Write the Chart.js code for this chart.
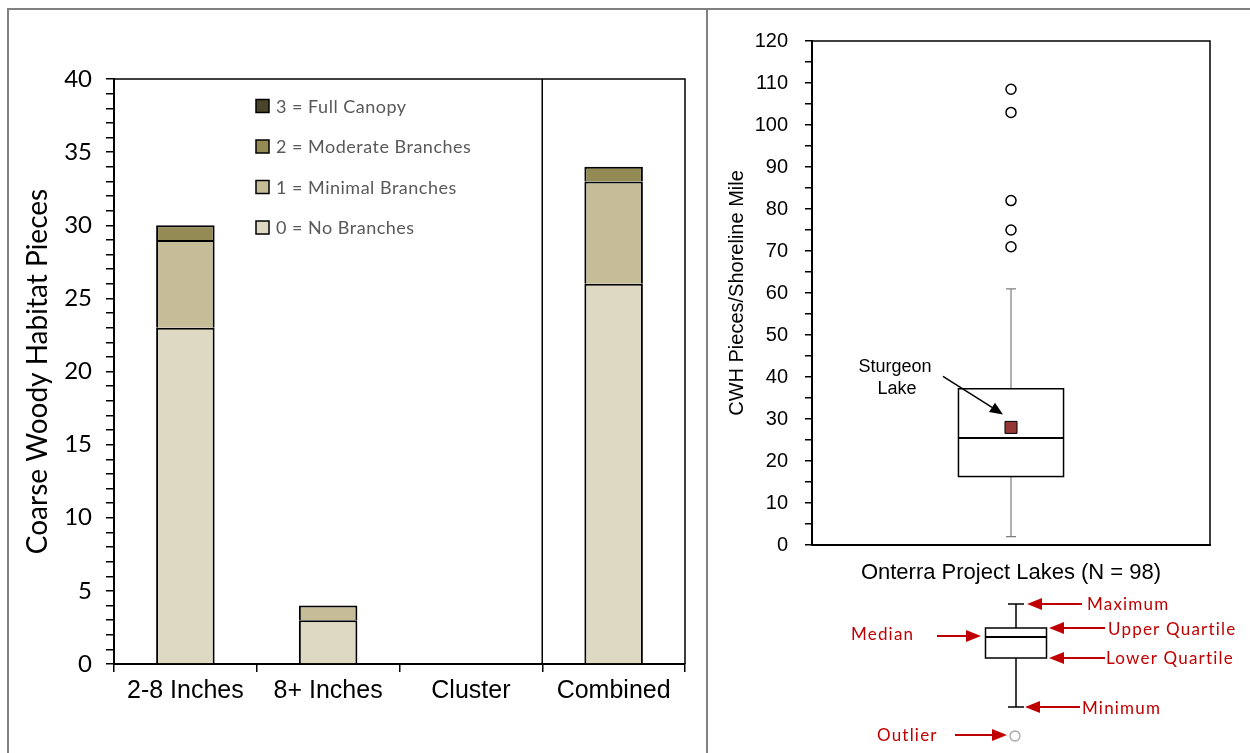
<!DOCTYPE html>
<html><head><meta charset="utf-8">
<script src="https://cdn.jsdelivr.net/npm/chart.js@4.4.1/dist/chart.umd.min.js"></script>
<style>
html,body{margin:0;padding:0;background:#fff;width:1250px;height:753px;overflow:hidden;}
#left{position:absolute;left:0;top:0;width:708px;height:753px;}
#right{position:absolute;left:708px;top:0;width:542px;height:753px;}
.bt{position:absolute;left:7px;top:8px;width:1243px;height:2px;background:#808080;}
.bl{position:absolute;left:7px;top:8px;width:2px;height:745px;background:#808080;}
.bm{position:absolute;left:706px;top:8px;width:2px;height:745px;background:#808080;}
</style></head>
<body>
<div class="bt"></div><div class="bl"></div><div class="bm"></div>
<div id="left"><canvas id="c1" width="708" height="753"></canvas></div>
<div id="right"><canvas id="c2" width="542" height="753"></canvas></div>
<script>
// ---------- Left chart data ----------
const categories = ['2-8 Inches', '8+ Inches', 'Cluster', 'Combined'];
const noBranches = [23, 3, 0, 26];
const minimalBranches = [6, 1, 0, 7];
const moderateBranches = [1, 0, 0, 1];
const fullCanopy = [0, 0, 0, 0];
const seriesLabels = ['0 = No Branches', '1 = Minimal Branches', '2 = Moderate Branches', '3 = Full Canopy'];
const seriesColors = ['#DDD9C3', '#C4BD97', '#948A54', '#4A452A'];
const leftYTickLabels = [0, 5, 10, 15, 20, 25, 30, 35, 40];
const leftYTitle = 'Coarse Woody Habitat Pieces';

// ---------- Right chart data ----------
const boxCategories = ['Onterra Project Lakes (N = 98)'];
const boxMin = [2];
const boxQ1 = [16.3];
const boxMedian = [25.5];
const boxQ3 = [37.2];
const boxMax = [61];
const outlierValues = [108.5, 103, 82, 75, 71];
const sturgeonValue = [28];
const rightYTickLabels = [0, 10, 20, 30, 40, 50, 60, 70, 80, 90, 100, 110, 120];
const rightYTitle = 'CWH Pieces/Shoreline Mile';
const sturgeonLabel = ['Sturgeon', 'Lake'];
const keyLabels = {max: 'Maximum', uq: 'Upper Quartile', lq: 'Lower Quartile', min: 'Minimum', median: 'Median', outlier: 'Outlier'};

const SANS = "'Liberation Sans', Arial, sans-serif";
const CAL = "Lato, 'Open Sans', sans-serif";

function arrow(ctx, x1, y1, x2, y2, color, hl, hw, lw) {
  const a = Math.atan2(y2 - y1, x2 - x1);
  const bx = x2 - hl * Math.cos(a), by = y2 - hl * Math.sin(a);
  ctx.save();
  ctx.strokeStyle = color; ctx.fillStyle = color; ctx.lineWidth = lw;
  ctx.beginPath(); ctx.moveTo(x1, y1); ctx.lineTo(bx, by); ctx.stroke();
  ctx.beginPath(); ctx.moveTo(x2, y2);
  ctx.lineTo(bx + hw * Math.sin(a), by - hw * Math.cos(a));
  ctx.lineTo(bx - hw * Math.sin(a), by + hw * Math.cos(a));
  ctx.closePath(); ctx.fill();
  ctx.restore();
}

// ---------- Left chart ----------
const leftDecor = {
  id: 'leftDecor',
  afterDraw(chart) {
    const ctx = chart.ctx, ca = chart.chartArea, xs = chart.scales.x;
    ctx.save();
    ctx.strokeStyle = '#000'; ctx.lineWidth = 1.5;
    ctx.beginPath();
    ctx.moveTo(ca.left, ca.top); ctx.lineTo(ca.right, ca.top); ctx.lineTo(ca.right, ca.bottom);
    const dx = (xs.getPixelForValue(2) + xs.getPixelForValue(3)) / 2;
    ctx.moveTo(dx, ca.top); ctx.lineTo(dx, ca.bottom);
    ctx.stroke();
    // legend
    const ds = chart.data.datasets;
    const lx = ca.left + 142, ly0 = ca.top + 27, step = 40.5;
    ctx.font = "18px " + CAL;
    ctx.letterSpacing = '0.5px';
    ctx.textBaseline = 'middle'; ctx.textAlign = 'left';
    for (let i = ds.length - 1; i >= 0; i--) {
      const y = ly0 + (ds.length - 1 - i) * step;
      ctx.fillStyle = ds[i].backgroundColor;
      ctx.fillRect(lx, y - 6.5, 13, 13);
      ctx.strokeStyle = '#000'; ctx.lineWidth = 1.5;
      ctx.strokeRect(lx, y - 6.5, 13, 13);
      ctx.fillStyle = '#595959';
      ctx.fillText(ds[i].label, lx + 20, y + 1);
    }
    ctx.restore();
  }
};

const leftSeries = [noBranches, minimalBranches, moderateBranches, fullCanopy];
new Chart(document.getElementById('c1'), {
  type: 'bar',
  data: {
    labels: categories,
    datasets: leftSeries.map((d, i) => ({
      label: seriesLabels[i], data: d, backgroundColor: seriesColors[i],
      borderColor: '#000', borderWidth: 2, borderSkipped: 'bottom',
      categoryPercentage: 1, barPercentage: 0.41
    }))
  },
  options: {
    responsive: false, animation: false, devicePixelRatio: 1,
    layout: {padding: {top: 79, right: 23, left: 0, bottom: 0}},
    plugins: {legend: {display: false}, tooltip: {enabled: false}},
    scales: {
      x: {
        stacked: true,
        afterFit(s) { s.height = 89; },
        grid: {display: true, drawOnChartArea: false, drawTicks: true, tickLength: 8, offset: true, color: '#000', lineWidth: 1.5},
        border: {display: true, color: '#000', width: 2},
        ticks: {color: '#000', font: {family: SANS, size: 25}, padding: 4, maxRotation: 0}
      },
      y: {
        stacked: true, min: 0, max: 40,
        afterFit(s) { s.width = 114; },
        grid: {display: true, drawOnChartArea: false, drawTicks: true, tickLength: 8, color: '#000', lineWidth: 1.5},
        border: {display: true, color: '#000', width: 2},
        ticks: {stepSize: 1, autoSkip: false, color: '#000', font: {family: CAL, size: 24}, padding: 14,
          callback: v => leftYTickLabels.includes(v) ? String(v) : ''},
        title: {display: true, text: leftYTitle, color: '#000', font: {family: CAL, size: 28}, padding: {top: 21, bottom: 0}}
      }
    }
  },
  plugins: [leftDecor]
});

// ---------- Right chart ----------
const rightDecor = {
  id: 'rightDecor',
  beforeDatasetsDraw(chart) {
    const ctx = chart.ctx, xs = chart.scales.x, ys = chart.scales.y;
    ctx.save();
    boxCategories.forEach((c, i) => {
      const cx = xs.getPixelForValue(i);
      const catW = xs.width / boxCategories.length;
      const hw = catW * 0.264 / 2;
      const yMin = ys.getPixelForValue(boxMin[i]), yQ1 = ys.getPixelForValue(boxQ1[i]);
      const yMed = ys.getPixelForValue(boxMedian[i]), yQ3 = ys.getPixelForValue(boxQ3[i]);
      const yMax = ys.getPixelForValue(boxMax[i]);
      ctx.strokeStyle = '#7f7f7f'; ctx.lineWidth = 1.2;
      ctx.beginPath();
      ctx.moveTo(cx, yQ3); ctx.lineTo(cx, yMax);
      ctx.moveTo(cx - 5, yMax); ctx.lineTo(cx + 5, yMax);
      ctx.moveTo(cx, yQ1); ctx.lineTo(cx, yMin);
      ctx.moveTo(cx - 5, yMin); ctx.lineTo(cx + 5, yMin);
      ctx.stroke();
      ctx.fillStyle = '#fff'; ctx.fillRect(cx - hw, yQ3, hw * 2, yQ1 - yQ3);
      ctx.strokeStyle = '#000'; ctx.lineWidth = 1.5;
      ctx.strokeRect(cx - hw, yQ3, hw * 2, yQ1 - yQ3);
      ctx.lineWidth = 2;
      ctx.beginPath(); ctx.moveTo(cx - hw, yMed); ctx.lineTo(cx + hw, yMed); ctx.stroke();
    });
    ctx.restore();
  },
  afterDraw(chart) {
    const ctx = chart.ctx, ca = chart.chartArea, xs = chart.scales.x, ys = chart.scales.y;
    ctx.save();
    ctx.strokeStyle = '#000'; ctx.lineWidth = 1.5;
    ctx.beginPath();
    ctx.moveTo(ca.left, ca.top); ctx.lineTo(ca.right, ca.top); ctx.lineTo(ca.right, ca.bottom);
    ctx.stroke();
    // Sturgeon Lake annotation
    const px = xs.getPixelForValue(0), py = ys.getPixelForValue(sturgeonValue[0]);
    ctx.fillStyle = '#000'; ctx.font = '18px ' + SANS; ctx.textAlign = 'center'; ctx.textBaseline = 'middle';
    ctx.fillText(sturgeonLabel[0], px - 116, py - 60);
    ctx.fillText(sturgeonLabel[1], px - 114, py - 38);
    arrow(ctx, px - 68, py - 51, px - 8, py - 13, '#000', 13, 5.5, 1.5);

    // Key diagram
    const kx = 308, kMax = 604, kQ3 = 628, kMed = 637, kQ1 = 658, kMin = 707, khw = 30.5;
    ctx.strokeStyle = '#000'; ctx.lineWidth = 1.5;
    ctx.beginPath();
    ctx.moveTo(kx, kQ3); ctx.lineTo(kx, kMax);
    ctx.moveTo(kx - 8, kMax); ctx.lineTo(kx + 8, kMax);
    ctx.moveTo(kx, kQ1); ctx.lineTo(kx, kMin);
    ctx.moveTo(kx - 8, kMin); ctx.lineTo(kx + 8, kMin);
    ctx.stroke();
    ctx.strokeRect(kx - khw, kQ3, khw * 2, kQ1 - kQ3);
    ctx.lineWidth = 2;
    ctx.beginPath(); ctx.moveTo(kx - khw, kMed); ctx.lineTo(kx + khw, kMed); ctx.stroke();
    ctx.strokeStyle = '#A6A6A6'; ctx.lineWidth = 1.3;
    ctx.beginPath(); ctx.arc(kx - 1, 736, 5, 0, Math.PI * 2); ctx.stroke();

    const red = '#C00000';
    arrow(ctx, 374, kMax, 319, kMax, red, 15, 6, 2);
    arrow(ctx, 397, kQ3, 341, kQ3, red, 15, 6, 2);
    arrow(ctx, 397, kQ1, 341, kQ1, red, 15, 6, 2);
    arrow(ctx, 372, kMin, 317, kMin, red, 15, 6, 2);
    arrow(ctx, 229, 636, 273, 636, red, 15, 6, 2);
    arrow(ctx, 247, 735, 299, 735, red, 15, 6, 2);
    ctx.fillStyle = red; ctx.font = '17px ' + CAL; ctx.letterSpacing = '1.2px';
    ctx.textAlign = 'left'; ctx.textBaseline = 'middle';
    ctx.fillText(keyLabels.max, 379, 605);
    ctx.fillText(keyLabels.uq, 400, 630);
    ctx.fillText(keyLabels.lq, 398, 659);
    ctx.fillText(keyLabels.min, 374, 709);
    ctx.fillText(keyLabels.median, 143, 635);
    ctx.fillText(keyLabels.outlier, 169, 736);
    ctx.restore();
  }
};

new Chart(document.getElementById('c2'), {
  type: 'line',
  data: {
    labels: boxCategories,
    datasets: [
      {label: 'Outliers', data: outlierValues.map(v => ({x: boxCategories[0], y: v})), showLine: false,
        pointStyle: 'circle', pointRadius: 5, pointBorderWidth: 1.5, pointBorderColor: '#000', pointBackgroundColor: '#fff'},
      {label: 'Sturgeon Lake', data: sturgeonValue.map(v => ({x: boxCategories[0], y: v})), showLine: false,
        pointStyle: 'rect', pointRadius: 8.5, pointBorderWidth: 1, pointBorderColor: '#000', pointBackgroundColor: '#953735'}
    ]
  },
  options: {
    responsive: false, animation: false, devicePixelRatio: 1,
    layout: {padding: {top: 41, right: 40, left: 0, bottom: 0}},
    plugins: {legend: {display: false}, tooltip: {enabled: false}},
    scales: {
      x: {
        offset: true,
        afterFit(s) { s.height = 208; },
        grid: {display: false, drawTicks: false},
        border: {display: true, color: '#000', width: 2},
        ticks: {display: false},
        title: {display: true, text: boxCategories[0], color: '#000', font: {family: SANS, size: 22}, padding: {top: 0, bottom: 167}}
      },
      y: {
        min: 0, max: 120,
        afterFit(s) { s.width = 104; },
        grid: {display: true, drawOnChartArea: false, drawTicks: true, tickLength: 7, color: '#000', lineWidth: 1.5},
        border: {display: true, color: '#000', width: 2},
        ticks: {stepSize: 5, autoSkip: false, color: '#000', font: {family: SANS, size: 20}, padding: 17,
          callback: v => rightYTickLabels.includes(v) ? String(v) : ''},
        title: {display: true, text: rightYTitle, color: '#000', font: {family: SANS, size: 20}, padding: {top: 17, bottom: 0}}
      }
    }
  },
  plugins: [rightDecor]
});
</script>
</body></html>
